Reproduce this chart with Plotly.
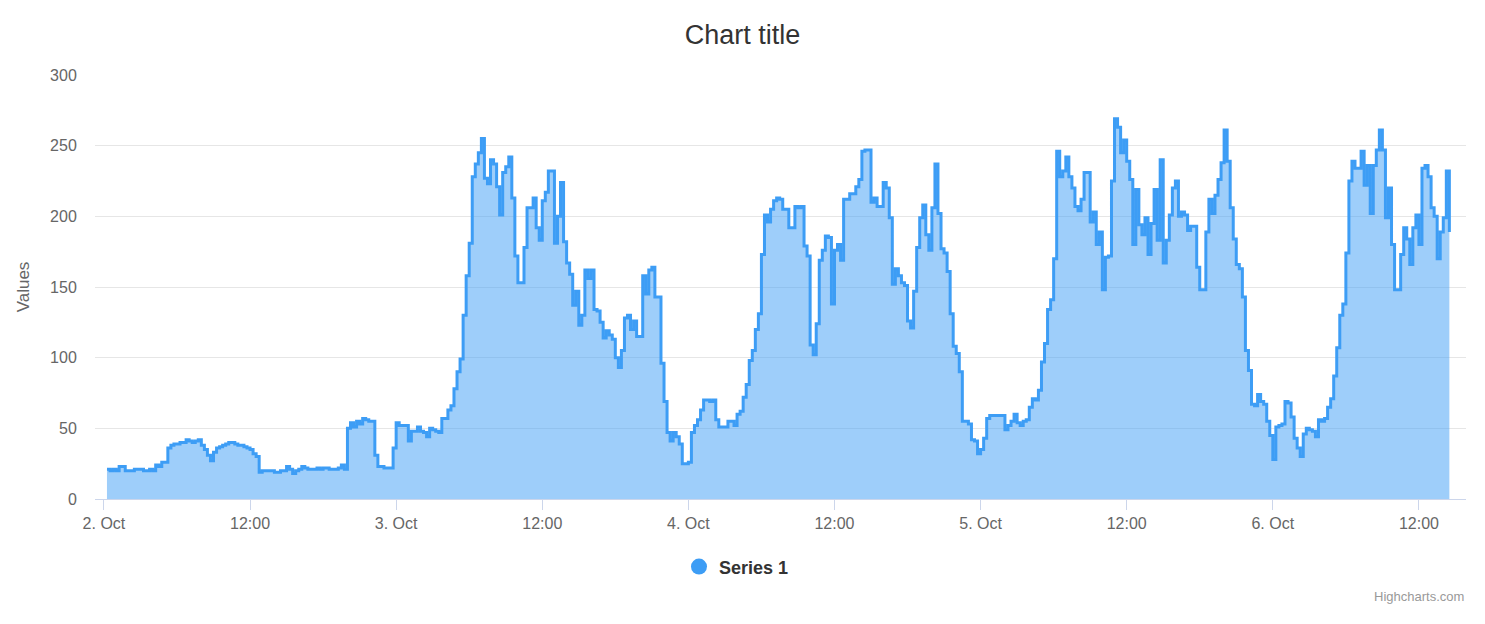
import pandas as pd
import plotly.graph_objects as go

# ---- data: 15-minute readings (first reading 2 Oct 00:15) ----
oct2_values = [21, 20, 21, 20, 23, 23, 20, 20, 20, 21,
               21, 21, 20, 20, 21, 20, 24, 23, 26, 26,
               36, 38, 39, 39, 40, 40, 42, 41, 40, 41,
               42, 38, 35, 31, 27, 33, 36, 37, 38, 39,
               40, 40, 39, 38, 38, 37, 36, 35, 32, 30,
               19, 20, 20, 20, 20, 19, 19, 20, 20, 23,
               21, 18, 20, 21, 23, 22, 21, 21, 21, 22,
               21, 22, 22, 21, 21, 21, 22, 24, 21, 50,
               54, 51, 55, 53, 57, 56, 55, 55, 31, 23,
               23, 22, 22, 22, 36]
oct3_values = [54, 52, 52, 52, 41,
               48, 48, 51, 48, 47, 44, 50, 49, 48, 47,
               57, 57, 63, 66, 78, 90, 99, 130, 158, 181,
               228, 237, 245, 255, 227, 223, 240, 237, 221, 201,
               231, 235, 242, 213, 172, 153, 153, 178, 206, 206,
               213, 192, 183, 211, 217, 232, 232, 181, 200, 224,
               182, 167, 159, 137, 147, 123, 130, 162, 156, 162,
               134, 133, 125, 114, 119, 116, 113, 100, 93, 105,
               128, 130, 120, 126, 115, 115, 158, 145, 162, 164,
               143, 143, 96, 69, 47, 41, 47, 44, 39, 25,
               25]
oct4_values = [26,
               47, 52, 56, 63, 70, 70, 69, 70,
               56, 51, 51, 51, 55, 55, 52, 60, 62, 72,
               81, 98, 105, 120, 131, 173, 201, 196, 205, 211,
               213, 212, 205, 205, 192, 192, 207, 206, 207, 179,
               172, 109, 102, 124, 169, 176, 186, 185, 138, 176,
               180, 169, 212, 212, 216, 216, 221, 226, 246, 247,
               247, 210, 213, 207, 207, 224, 220, 199, 152, 163,
               158, 153, 151, 126, 121, 147, 178, 199, 208, 187,
               176, 206, 237, 202, 177, 174, 161, 131, 108, 103,
               90, 55, 55, 53, 42, 41, 32]
oct5_values = [35, 43, 57,
               59, 59, 59, 59, 59, 49, 52, 55, 60, 54,
               52, 55, 56, 65, 71, 70, 77, 97, 110, 134,
               141, 170, 246, 228, 232, 242, 228, 220, 207, 204,
               212, 231, 231, 196, 203, 180, 189, 148, 171, 172,
               225, 269, 263, 245, 254, 239, 226, 180, 219, 194,
               187, 199, 173, 195, 219, 183, 240, 167, 183, 201,
               220, 225, 200, 203, 201, 190, 193, 193, 164, 148,
               148, 189, 212, 202, 215, 226, 238, 261, 239, 206,
               184, 166, 163, 143, 105, 91, 67, 66, 74, 69,
               67, 55, 45]
oct6_values = [28, 51, 52, 53, 69, 68, 58,
               43, 36, 30, 46, 50, 49, 48, 44, 56, 55,
               57, 65, 71, 87, 107, 130, 138, 174, 225, 239,
               234, 234, 246, 222, 236, 202, 236, 247, 261, 247,
               199, 220, 180, 148, 148, 173, 192, 184, 166, 192,
               201, 180, 234, 236, 228, 206, 200, 170, 189, 199,
               232, 189]

series_name = "Series 1"
first_time = "2024-10-02 00:15"
tick_dates = ["2024-10-02 00:00", "2024-10-02 12:00", "2024-10-03 00:00",
              "2024-10-03 12:00", "2024-10-04 00:00", "2024-10-04 12:00",
              "2024-10-05 00:00", "2024-10-05 12:00", "2024-10-06 00:00",
              "2024-10-06 12:00"]
tick_labels = ["2. Oct", "12:00", "3. Oct", "12:00", "4. Oct", "12:00",
               "5. Oct", "12:00", "6. Oct", "12:00"]
y_ticks = [0, 50, 100, 150, 200, 250, 300]

values = oct2_values + oct3_values + oct4_values + oct5_values + oct6_values
times = pd.date_range(first_time, periods=len(values), freq="15min")

LINE = "#3d9df5"
FONT = "Liberation Sans, Arial, Helvetica, sans-serif"

fig = go.Figure()
fig.add_trace(go.Scatter(
    x=times, y=values, mode="lines", line_shape="hv",
    line=dict(color=LINE, width=3),
    fill="tozeroy", fillcolor="rgba(61,157,245,0.5)",
    showlegend=False, name=series_name, hoverinfo="x+y"))
# legend entry (circle symbol like the original)
fig.add_trace(go.Scatter(
    x=[None], y=[None], mode="markers", name=series_name,
    marker=dict(color=LINE, size=18, symbol="circle")))

fig.update_layout(
    width=1485, height=624,
    margin=dict(l=95, r=19, t=75, b=125),
    paper_bgcolor="white", plot_bgcolor="white",
    font=dict(family=FONT, color="#666666"),
    title=dict(text="Chart title", x=0.5, xanchor="center",
               y=1 - 35 / 624, yanchor="middle",
               font=dict(size=27, color="#333333", family=FONT)),
    showlegend=True,
    legend=dict(orientation="h", x=0.4679, xanchor="center",
                y=-0.16, yanchor="middle",
                font=dict(size=18, color="#333333", family=FONT, weight="bold"),
                itemsizing="trace"),
    xaxis=dict(
        type="date",
        range=["2024-10-01 23:16", "2024-10-06 15:52"],
        tickmode="array", tickvals=tick_dates, ticktext=tick_labels,
        ticks="outside", ticklen=10, tickcolor="#ccd6eb", tickwidth=1,
        showline=True, linecolor="#ccd6eb", linewidth=1,
        showgrid=False, zeroline=False,
        tickfont=dict(size=16, color="#666666")),
    yaxis=dict(
        range=[0, 300], tickmode="array", tickvals=y_ticks,
        showgrid=True, gridcolor="#e6e6e6", gridwidth=1,
        zeroline=False, showline=False,
        ticks="outside", ticklen=14, tickcolor="rgba(0,0,0,0)",
        tickfont=dict(size=16, color="#666666"),
        title=dict(text="Values", font=dict(size=17, color="#666666"),
                   standoff=16)),
    annotations=[dict(
        text="Highcharts.com", xref="paper", yref="paper",
        x=1, y=(499 - 596) / 424, xanchor="right", yanchor="middle",
        showarrow=False, font=dict(size=13, color="#999999", family=FONT))],
)

fig.write_html("out.html",
               config={"displayModeBar": False},
               post_script="document.body.style.margin='0px';"
                           "document.body.style.overflow='hidden';")
